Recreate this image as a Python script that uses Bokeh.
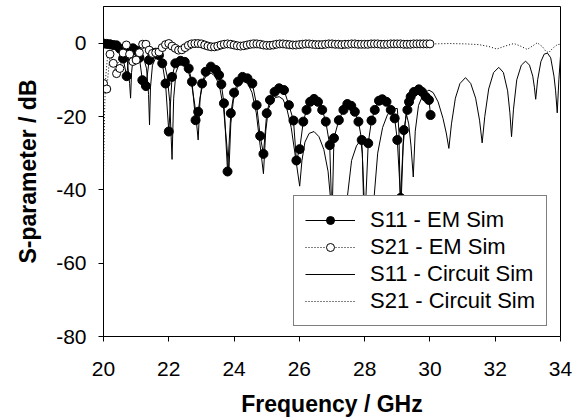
from bokeh.plotting import figure
from bokeh.models import Legend, LegendItem, Range1d, FixedTicker
from bokeh.embed import file_html
from bokeh.resources import INLINE

# ---------------- data ----------------
x_ticks = [20, 22, 24, 26, 28, 30, 32, 34]
y_ticks = [0, -20, -40, -60, -80]
y_tick_labels = ["0", "-20", "-40", "-60", "-80"]

# S11 - EM Sim (filled circles)
f_s11_em = [20.0, 20.1, 20.2, 20.3, 20.4, 20.5, 20.6, 20.71, 20.8, 20.9, 21.0, 21.1,
            21.19, 21.3, 21.4, 21.5, 21.6, 21.7, 21.8, 21.9, 22.0, 22.1, 22.2, 22.36,
            22.49, 22.61, 22.71, 22.82, 22.9, 23.02, 23.13, 23.29, 23.44, 23.54, 23.61,
            23.69, 23.8, 23.9, 24.0, 24.12, 24.26, 24.41, 24.56, 24.69, 24.8, 24.9, 25.0,
            25.1, 25.24, 25.38, 25.53, 25.68, 25.82, 25.91, 26.01, 26.12, 26.22, 26.33,
            26.45, 26.57, 26.7, 26.81, 26.93, 27.0, 27.06, 27.21, 27.35, 27.47, 27.59,
            27.7, 27.81, 27.91, 28.01, 28.11, 28.21, 28.31, 28.44, 28.54, 28.67, 28.8,
            28.92, 29.0, 29.1, 29.2, 29.31, 29.36, 29.41, 29.51, 29.66, 29.76, 29.87,
            29.97, 30.02]
s11_em = [-0.1, -0.2, -0.3, -0.5, -0.6, -1.5, -4.2, -9.0, -1.5, -1.4, -2.0, -4.0,
          -10.1, -11.7, -4.6, -3.0, -2.6, -3.3, -5.5, -11.0, -24.1, -9.2, -5.5, -4.8,
          -5.1, -6.9, -10.5, -21.0, -18.7, -11.0, -7.8, -6.4, -7.3, -8.7, -11.2,
          -16.4, -35.0, -19.1, -13.5, -10.5, -9.2, -9.6, -11.0, -16.9, -25.3, -30.2, -19.1,
          -15.5, -13.3, -12.3, -12.8, -16.9, -21.1, -32.0, -28.9, -21.4, -18.2, -16.0,
          -15.2, -16.0, -18.2, -21.4, -27.8, -48.0, -25.9, -21.0, -18.2, -16.6, -17.1,
          -18.7, -21.4, -26.4, -48.0, -27.3, -21.1, -18.2, -15.7, -15.3, -16.0, -18.2,
          -20.5, -26.4, -42.2, -23.7, -18.2, -16.0, -14.6, -13.3, -12.6, -13.3, -14.6,
          -15.5, -19.6]

# S21 - EM Sim (open circles)
f_s21_em = [20.0, 20.1, 20.2, 20.3, 20.4, 20.5, 20.6, 20.7, 20.8, 20.9,
            21.0, 21.1, 21.2, 21.3, 21.4, 21.5, 21.6, 21.7, 21.8, 21.9,
            22.0, 22.1, 22.2, 22.3, 22.4, 22.5, 22.6, 22.7, 22.8, 22.9,
            23.0, 23.1, 23.2, 23.3, 23.4, 23.5, 23.6, 23.7, 23.8, 23.9,
            24.0, 24.1, 24.2, 24.3, 24.4, 24.5, 24.6, 24.7, 24.8, 24.9,
            25.0, 25.1, 25.2, 25.3, 25.4, 25.5, 25.6, 25.7, 25.8, 25.9,
            26.0, 26.1, 26.2, 26.3, 26.4, 26.5, 26.6, 26.7, 26.8, 26.9,
            27.0, 27.1, 27.2, 27.3, 27.4, 27.5, 27.6, 27.7, 27.8, 27.9,
            28.0, 28.1, 28.2, 28.3, 28.4, 28.5, 28.6, 28.7, 28.8, 28.9,
            29.0, 29.1, 29.2, 29.3, 29.4, 29.5, 29.6, 29.7, 29.8, 29.9, 30.0]
s21_em = [-11.0, -12.5, -3.0, -5.5, -8.3, -6.9, -2.7, -0.5, -3.0, -5.0,
          -4.6, -2.6, -0.3, -0.3, -1.9, -2.8, -2.6, -2.4, -1.2, -0.4,
          -0.1, -0.8, -1.4, -1.9, -1.8, -1.2, -0.6, -0.2, -0.1, -0.1,
          -0.2, -0.5, -0.8, -1.0, -1.0, -0.8, -0.5, -0.3, -0.2, -0.3,
          -0.5, -0.7, -0.8, -0.7, -0.5, -0.3, -0.2, -0.2, -0.3, -0.5,
          -0.6, -0.6, -0.5, -0.3, -0.2, -0.2, -0.3, -0.4, -0.5, -0.5,
          -0.4, -0.3, -0.2, -0.2, -0.3, -0.4, -0.4, -0.4, -0.3, -0.2,
          -0.2, -0.3, -0.3, -0.4, -0.3, -0.3, -0.2, -0.2, -0.3, -0.3,
          -0.3, -0.3, -0.2, -0.2, -0.2, -0.3, -0.3, -0.3, -0.2, -0.2,
          -0.2, -0.2, -0.3, -0.3, -0.3, -0.2, -0.2, -0.2, -0.2, -0.2, -0.2]

# S11 - Circuit Sim (solid line)
f_s11_circ = [20.0, 20.15, 20.3, 20.45, 20.6, 20.72, 20.8, 20.83, 20.86, 20.92,
              21.05, 21.2, 21.32, 21.38, 21.41, 21.44, 21.5, 21.6, 21.72, 21.85,
              21.95, 22.03, 22.1, 22.15, 22.22, 22.3, 22.42, 22.55, 22.68, 22.8,
              22.9, 22.96, 23.05, 23.17, 23.3, 23.42, 23.55, 23.68, 23.78, 23.84,
              23.9, 23.98, 24.1, 24.2, 24.3, 24.42, 24.55, 24.68, 24.8, 24.9,
              24.97, 25.05, 25.17, 25.28, 25.38, 25.5, 25.62, 25.75, 25.88, 26.01,
              26.08, 26.17, 26.3, 26.45, 26.6, 26.75, 26.88, 27.01, 27.25, 27.47,
              27.6, 27.75, 27.88, 27.93, 27.98, 28.15, 28.29, 28.4, 28.55, 28.7,
              28.85, 29.0, 29.05, 29.1, 29.18, 29.27, 29.35, 29.42, 29.49, 29.55,
              29.65, 29.8, 29.97, 30.1, 30.25, 30.4, 30.5, 30.58, 30.66, 30.78,
              30.92, 31.09, 31.25, 31.4, 31.52, 31.6, 31.68, 31.8, 31.95, 32.11,
              32.25, 32.38, 32.45, 32.5, 32.56, 32.66, 32.8, 32.93, 33.05, 33.15,
              33.2, 33.24, 33.3, 33.4, 33.5, 33.6, 33.7, 33.8, 33.85, 33.9,
              33.95, 34.0]
s11_circ = [-0.3, -0.3, -0.5, -0.8, -1.5, -4.0, -11.0, -15.0, -8.0, -3.0,
            -2.0, -3.0, -7.0, -14.0, -22.3, -12.0, -6.0, -4.0, -3.7, -5.0,
            -9.0, -16.0, -31.7, -15.0, -8.0, -6.0, -5.5, -6.5, -10.0, -17.0,
            -26.4, -15.0, -10.5, -8.5, -8.2, -9.0, -11.5, -18.0, -28.0, -35.5,
            -22.0, -15.5, -12.0, -10.8, -10.5, -11.0, -13.5, -19.0, -28.0, -35.6,
            -24.0, -18.0, -15.5, -14.8, -14.6, -15.3, -18.0, -23.0, -31.0, -39.0,
            -32.0, -27.0, -24.6, -24.1, -25.5, -29.0, -35.0, -48.0, -55.0, -42.0,
            -32.0, -28.0, -26.4, -30.0, -48.0, -55.0, -42.0, -30.0, -23.0, -19.5,
            -18.0, -17.8, -24.0, -48.0, -28.0, -19.0, -22.0, -28.0, -36.5, -24.0,
            -17.0, -13.8, -12.8, -13.5, -16.0, -20.5, -24.5, -28.7, -22.0, -15.0,
            -11.0, -9.4, -11.0, -15.0, -21.0, -27.2, -20.0, -12.5, -8.0, -6.6,
            -8.0, -13.0, -19.0, -25.5, -18.0, -10.0, -6.0, -4.9, -6.0, -9.0,
            -12.0, -15.3, -10.0, -5.0, -3.0, -2.7, -4.0, -9.0, -13.0, -19.0,
            -10.0, -3.5]

# S21 - Circuit Sim (dotted line)
f_s21_circ = [20.0, 20.02, 20.04, 20.07, 20.12, 20.2, 20.3, 20.38, 20.45, 20.55,
              20.7, 20.85, 21.0, 21.15, 21.3, 21.5, 21.7, 21.9, 22.2, 22.4,
              22.6, 22.9, 23.3, 23.7, 24.2, 24.7, 25.2, 25.7, 26.2, 26.7,
              27.2, 27.7, 28.2, 28.7, 29.2, 29.7, 30.1, 30.6, 31.1, 31.5,
              31.8, 32.05, 32.3, 32.57, 32.75, 32.98, 33.12, 33.29, 33.45, 33.55,
              33.64, 33.75, 33.9, 34.0]
s21_circ = [-36.0, -26.0, -16.0, -9.0, -4.0, -2.0, -4.5, -9.0, -5.0, -1.5,
            -0.6, -2.5, -3.5, -2.0, -0.8, -1.5, -1.8, -0.6, -0.8, -1.5,
            -0.8, -0.2, -0.6, -0.3, -0.5, -0.2, -0.4, -0.3, -0.2, -0.3,
            -0.2, -0.2, -0.2, -0.2, -0.2, -0.2, -0.2, -0.1, -0.2, -0.4,
            -0.9, -1.6, -0.8, -0.1, -0.7, -1.7, -0.9, 0.1, -1.0, -2.2,
            -2.6, -1.5, -0.4, -0.3]

labels = ["S11 - EM Sim", "S21 - EM Sim", "S11 - Circuit Sim", "S21 - Circuit Sim"]

# ---------------- figure ----------------
FONT = "Liberation Sans"
p = figure(width=580, height=419, output_backend="svg", toolbar_location=None,
           x_range=Range1d(20, 34), y_range=Range1d(-80, 10),
           min_border_left=103, min_border_right=20, min_border_top=6,
           min_border_bottom=83, background_fill_color="white",
           border_fill_color="white")
p.grid.visible = False
p.outline_line_color = "black"
p.outline_line_width = 1

p.xaxis.ticker = FixedTicker(ticks=x_ticks)
p.yaxis.ticker = FixedTicker(ticks=y_ticks)
p.yaxis.major_label_overrides = {t: s for t, s in zip(y_ticks, y_tick_labels)}
for ax in (p.xaxis[0], p.yaxis[0]):
    ax.minor_tick_line_color = None
    ax.major_tick_in = 0
    ax.major_tick_out = 5
    ax.major_tick_line_color = "black"
    ax.axis_line_color = "black"
    ax.major_label_text_font = FONT
    ax.major_label_text_font_size = "21px"
    ax.major_label_text_color = "black"
    ax.axis_label_text_font = FONT
    ax.axis_label_text_font_size = "23px"
    ax.axis_label_text_font_style = "bold"
    ax.axis_label_text_color = "black"

p.xaxis.axis_label = "Frequency / GHz"
p.yaxis.axis_label = "S-parameter / dB"
p.xaxis.major_label_standoff = 20
p.xaxis.axis_label_standoff = 12
p.yaxis.major_label_standoff = 12
p.yaxis.axis_label_standoff = 12

r_s11c = p.line(f_s11_circ, s11_circ, line_color="black", line_width=1)
r_s21c = p.line(f_s21_circ, s21_circ, line_color="black", line_width=1, line_dash="1 2")
r_s11e_l = p.line(f_s11_em, s11_em, line_color="black", line_width=1)
r_s11e_m = p.scatter(f_s11_em, s11_em, size=9, marker="circle",
                     fill_color="black", line_color="black")
r_s21e_l = p.line(f_s21_em, s21_em, line_color="black", line_width=1, line_dash="1 2")
r_s21e_m = p.scatter(f_s21_em, s21_em, size=8, marker="circle",
                     fill_color="white", line_color="black", line_width=1)

legend = Legend(items=[
    LegendItem(label=labels[0], renderers=[r_s11e_l, r_s11e_m]),
    LegendItem(label=labels[1], renderers=[r_s21e_l, r_s21e_m]),
    LegendItem(label=labels[2], renderers=[r_s11c]),
    LegendItem(label=labels[3], renderers=[r_s21c]),
], location=(190, 10))
legend.label_text_font = FONT
legend.label_text_font_size = "22px"
legend.label_text_color = "black"
legend.glyph_width = 50
legend.glyph_height = 20
legend.label_standoff = 15
legend.padding = 11
legend.spacing = 1
legend.margin = 0
legend.border_line_color = "black"
legend.border_line_width = 1
legend.background_fill_color = "white"
legend.background_fill_alpha = 1
p.add_layout(legend)

open("out.html", "w").write(file_html(p, INLINE))
